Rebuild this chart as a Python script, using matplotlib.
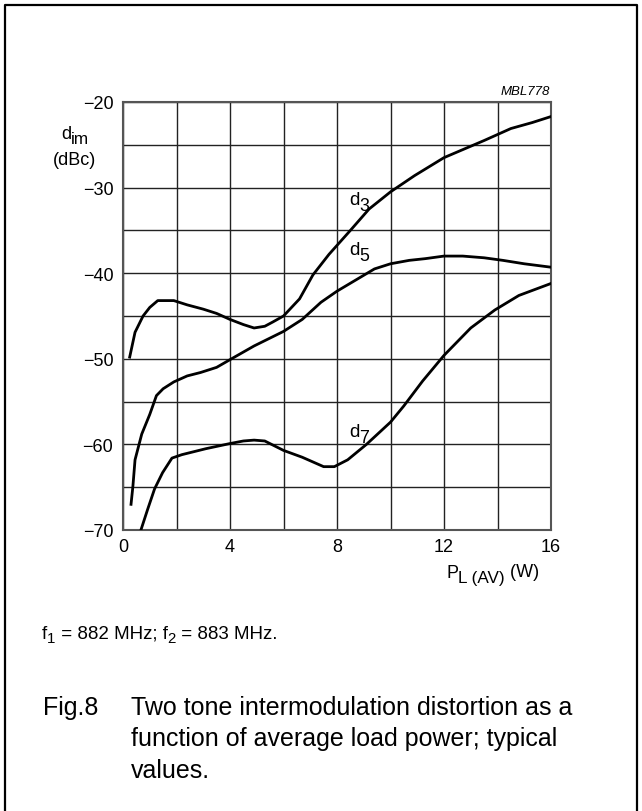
import numpy as np
import matplotlib
matplotlib.use("Agg")
import matplotlib.pyplot as plt
from matplotlib.lines import Line2D
from matplotlib.transforms import IdentityTransform

plt.rcParams['font.family'] = ['Liberation Sans', 'DejaVu Sans']

# dane (P_L w W, d_im w dBc)
d3_x = [0.25, 0.45, 0.75, 1.0, 1.3, 1.9, 2.4, 3.0, 3.5, 4.0, 4.5, 4.9, 5.3, 5.6, 6.0,
        6.6, 7.1, 7.7, 8.5, 9.2, 10.0, 10.9, 12.0, 12.9, 13.5, 14.5, 15.3, 16.0]
d3_y = [-49.8, -46.9, -45.0, -44.0, -43.2, -43.2, -43.7, -44.2, -44.7, -45.4, -46.0, -46.4,
        -46.2, -45.7, -45.0, -43.0, -40.2, -37.8, -35.0, -32.5, -30.5, -28.6, -26.5, -25.3,
        -24.5, -23.1, -22.4, -21.7]

d5_x = [0.3, 0.37, 0.45, 0.7, 1.0, 1.25, 1.5, 1.9, 2.4, 2.9, 3.5, 4.0, 4.9, 6.0, 6.7, 7.4,
        8.0, 8.7, 9.4, 10.0, 10.7, 11.3, 12.0, 12.7, 13.5, 14.2, 15.0, 16.0]
d5_y = [-67.0, -64.9, -61.8, -58.8, -56.5, -54.3, -53.5, -52.7, -52.0, -51.6, -51.0, -50.1,
        -48.5, -46.8, -45.4, -43.4, -42.1, -40.8, -39.5, -38.9, -38.5, -38.3, -38.0, -38.0,
        -38.2, -38.5, -38.9, -39.3]

d7_x = [0.67, 0.92, 1.18, 1.48, 1.83, 2.2, 3.1, 4.0, 4.5, 4.9, 5.3, 6.0, 6.7, 7.5, 7.9, 8.4,
        9.1, 10.0, 10.5, 11.2, 12.0, 13.0, 13.9, 14.8, 16.0]
d7_y = [-70.0, -67.6, -65.2, -63.3, -61.6, -61.2, -60.5, -59.9, -59.6, -59.5, -59.6, -60.7,
        -61.5, -62.6, -62.6, -61.8, -60.0, -57.4, -55.5, -52.6, -49.6, -46.4, -44.3, -42.6, -41.2]

x_ticks = [0, 4, 8, 12, 16]
y_ticks = [-70, -60, -50, -40, -30, -20]

W, H = 642, 812

fig = plt.figure(figsize=(W / 100, H / 100), dpi=100)
ax = fig.add_axes([123 / W, 1 - 531 / H, 428 / W, 428 / H])
rend = fig.canvas.get_renderer()


def runs(xd, yd, parts, size):
    # tekst z indeksami dolnymi: (napis, skala, przesuniecie w dol w px)
    for s, sc, dy in parts:
        t = fig.text(xd, yd - dy, s, fontsize=size * sc, va='baseline',
                     transform=IdentityTransform())
        xd += t.get_window_extent(rend).width


def top_px(x, y):
    # piksele od gory -> wspolrzedne ekranu
    return x, H - y


for xs, ys in [(d3_x, d3_y), (d5_x, d5_y), (d7_x, d7_y)]:
    ax.plot(xs, ys, color='black', lw=2.0, solid_joinstyle='round', zorder=3)

ax.set_xlim(0, 16)
ax.set_ylim(-70, -20)
ax.set_xticks(x_ticks)
ax.set_xticks([2, 6, 10, 14], minor=True)
ax.set_yticks(y_ticks)
ax.set_yticks([-65, -55, -45, -35, -25], minor=True)
ax.grid(True, which='both', color='#222222', lw=1.0)
ax.tick_params(which='both', length=0, labelsize=13)
ax.tick_params(axis='y', pad=7)
ax.tick_params(axis='x', pad=6)
for s in ax.spines.values():
    s.set_color('#555555')
    s.set_linewidth(1.5)

# etykiety krzywych
for n, yv in [('3', -31.9), ('5', -37.8), ('7', -59.0)]:
    xd, yd = ax.transData.transform((8.45, yv))
    runs(xd, yd, [('d', 1.0, 0), (n, 0.95, 6)], 13.5)

# opis osi
runs(*top_px(61, 139), [('d', 1.0, 0), ('im', 0.95, 5)], 13)
fig.text(75 / W, 1 - 165 / H, '(dBc)', fontsize=13, ha='center', va='baseline')
runs(*top_px(446, 578), [('P', 1.0, 0), ('L (AV)', 0.95, 5), (' (W)', 1.0, -1)], 13)
fig.text(550 / W, 1 - 95 / H, 'MBL778', fontsize=9.5, style='italic', ha='right', va='baseline')

# ramka
l, r, t = 5.5 / W, 637 / W, 1 - 6 / H
fig.add_artist(Line2D([l, l, r, r], [0, t, t, 0], color='black', lw=1.6,
                      transform=fig.transFigure))

runs(*top_px(42, 639), [('f', 1.0, 0), ('1', 0.8, 4), (' = 882 MHz; f', 1.0, 0),
                        ('2', 0.8, 4), (' = 883 MHz.', 1.0, 0)], 13.5)
fig.text(43 / W, 1 - 715 / H, 'Fig.8', fontsize=18, va='baseline')
fig.text(131 / W, 1 - 715 / H, 'Two tone intermodulation distortion as a', fontsize=18, va='baseline')
fig.text(131 / W, 1 - 746 / H, 'function of average load power; typical', fontsize=18, va='baseline')
fig.text(131 / W, 1 - 778 / H, 'values.', fontsize=18, va='baseline')

fig.savefig('out.png', dpi=100)
